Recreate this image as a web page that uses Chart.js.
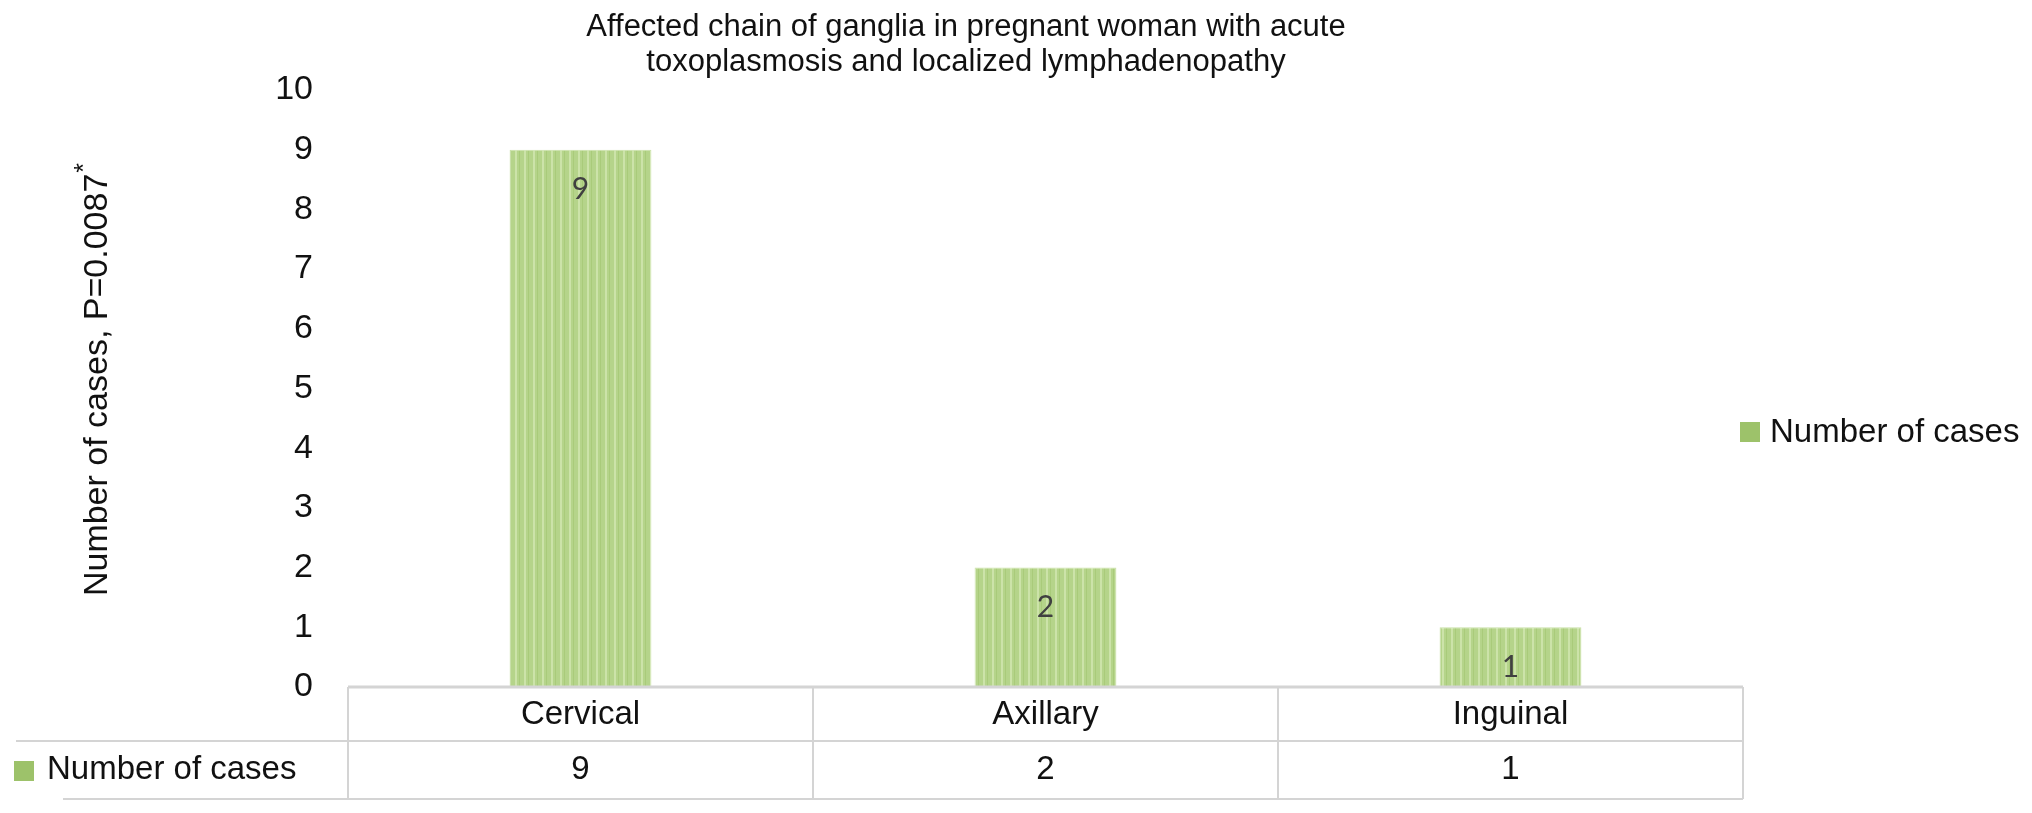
<!DOCTYPE html>
<html lang="en">
<head>
    <meta charset="UTF-8">
    <title>Affected chain of ganglia</title>
    <script src="https://cdn.jsdelivr.net/npm/chart.js"></script>
    <style>
        body { margin: 0; background: #fff; }
    </style>
</head>
<body>
<canvas id="chart" width="2032" height="813"></canvas>

<script>
    const categories = ['Cervical', 'Axillary', 'Inguinal'];
    const cases = [9, 2, 1];
    const seriesName = 'Number of cases';
    const titleLines = ['Affected chain of ganglia in pregnant woman with acute', 'toxoplasmosis and localized lymphadenopathy'];
    const yTitle = 'Number of cases, P=0.0087';
    const yMax = 10;

    const FONT = '"Liberation Sans", Arial, sans-serif';
    Chart.defaults.font.family = FONT;

    // striped green fill like the original bars
    function stripes() {
        const c = document.createElement('canvas');
        c.width = 9; c.height = 4;
        const g = c.getContext('2d');
        g.fillStyle = '#b5d48a'; g.fillRect(0, 0, 9, 4);
        g.fillStyle = '#cce3a9'; g.fillRect(2, 0, 2, 4);
        g.fillStyle = '#a9cb7a'; g.fillRect(6, 0, 1, 4);
        return g.createPattern(c, 'repeat');
    }
    const ctx = document.getElementById('chart');
    const pattern = stripes();

    const extras = {
        id: 'extras',
        afterDraw(chart) {
            const c = chart.ctx;
            const x = chart.scales.x;
            const area = chart.chartArea;
            const base = chart.scales.y.getPixelForValue(0);
            c.save();

            // title
            c.fillStyle = '#111';
            c.font = '31px ' + FONT;
            c.textAlign = 'center';
            c.textBaseline = 'middle';
            titleLines.forEach((t, i) => c.fillText(t, 966, 27 + i * 35));

            // y title, rotated, with superscript asterisk
            c.save();
            c.translate(98, 380);
            c.rotate(-Math.PI / 2);
            c.font = '34px ' + FONT;
            const w = c.measureText(yTitle).width;
            c.font = '25px ' + FONT;
            const wa = c.measureText('*').width;
            c.textAlign = 'left';
            c.font = '34px ' + FONT;
            c.fillText(yTitle, -(w + wa) / 2, 0);
            c.font = '25px ' + FONT;
            c.fillText('*', -(w + wa) / 2 + w + 1, -13);
            c.restore();

            // data labels
            const meta = chart.getDatasetMeta(0);
            c.font = '30px Lato, ' + FONT;
            c.fillStyle = '#404040';
            meta.data.forEach((bar, i) => c.fillText(String(cases[i]), bar.x, bar.y + 40));

            // data table
            const rowMid = 741, rowBot = 799;
            c.strokeStyle = '#d4d4d4';
            c.lineWidth = 3;
            c.beginPath(); c.moveTo(area.left, base); c.lineTo(area.right, base); c.stroke();
            c.lineWidth = 2;
            c.beginPath();
            c.moveTo(16, rowMid); c.lineTo(area.right, rowMid);
            c.moveTo(63, rowBot); c.lineTo(area.right, rowBot);
            const step = (area.right - area.left) / categories.length;
            for (let i = 0; i <= categories.length; i++) {
                const vx = area.left + i * step;
                c.moveTo(vx, base); c.lineTo(vx, rowBot);
            }
            c.stroke();

            c.fillStyle = '#111';
            c.font = '33px ' + FONT;
            cases.forEach((v, i) => c.fillText(String(v), x.getPixelForValue(i), 770));

            // legend in table and legend on the right
            c.textAlign = 'left';
            c.fillStyle = '#9dc26a';
            c.fillRect(14, 761, 20, 20);
            c.fillRect(1740, 422, 20, 20);
            c.fillStyle = '#111';
            c.fillText(seriesName, 47, 770);
            c.fillText(seriesName, 1770, 433);
            c.restore();
        }
    };

    new Chart(ctx, {
        type: 'bar',
        data: {
            labels: categories,
            datasets: [{
                label: seriesName,
                data: cases,
                backgroundColor: pattern,
                borderColor: '#c9e1a6',
                borderWidth: 1,
                categoryPercentage: 1,
                barPercentage: 0.305
            }]
        },
        options: {
            responsive: false,
            animation: false,
            devicePixelRatio: 1,
            layout: { padding: { top: 90, right: 289, left: 0, bottom: 0 } },
            plugins: {
                legend: { display: false },
                title: { display: false },
                tooltip: { enabled: false }
            },
            scales: {
                x: {
                    grid: { display: false },
                    border: { display: false },
                    ticks: { color: '#111', font: { size: 33 }, padding: 0 },
                    afterFit(s) { s.height = 126; }
                },
                y: {
                    min: 0,
                    max: yMax,
                    grid: { display: false, drawTicks: false },
                    border: { display: false },
                    ticks: { stepSize: 1, color: '#111', font: { size: 34 }, padding: 35 },
                    afterFit(s) { s.width = 348; }
                }
            }
        },
        plugins: [extras]
    });
</script>
</body>
</html>
